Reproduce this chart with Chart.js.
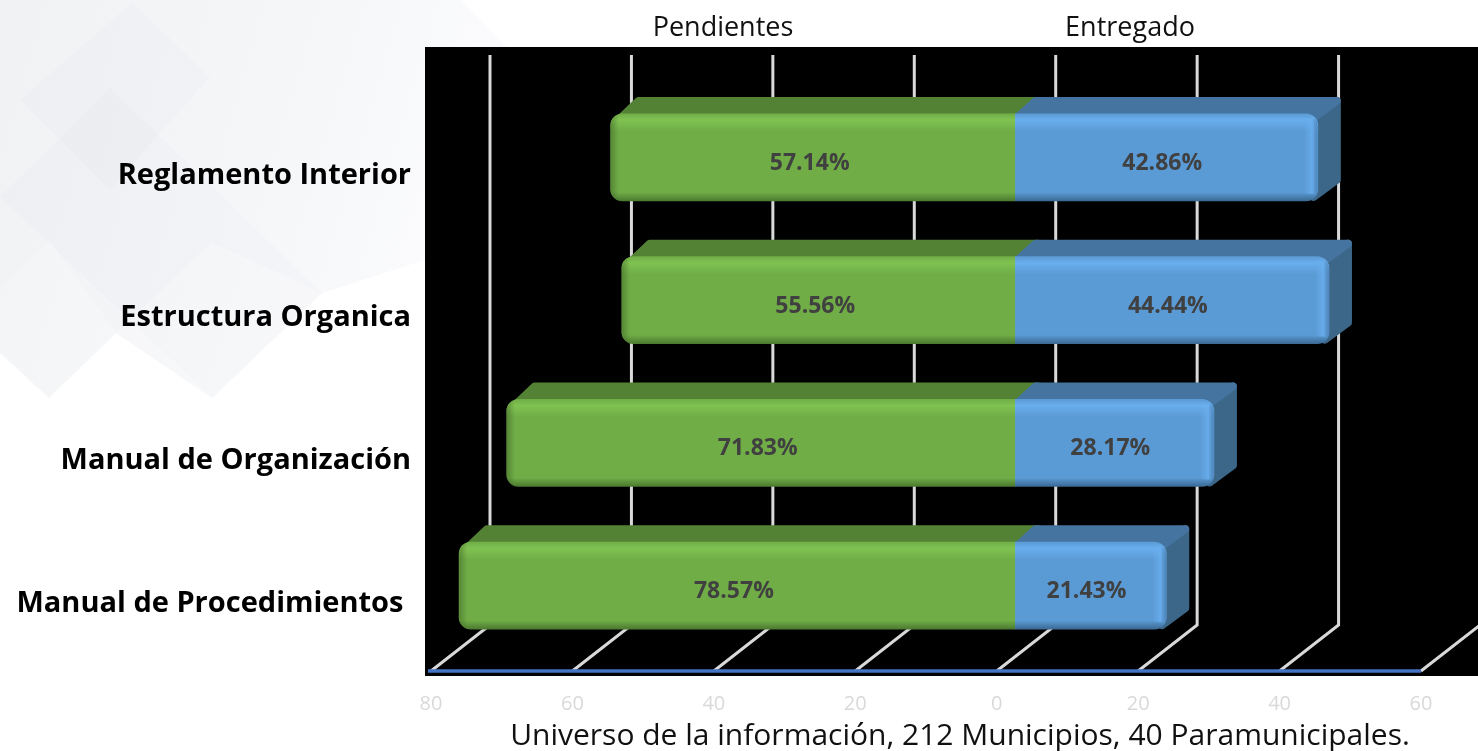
<!DOCTYPE html>
<html lang="es">
<head>
  <meta charset="UTF-8"/>
  <title>Universo de la información</title>
  <script src="https://cdn.jsdelivr.net/npm/chart.js"></script>
  <style>
    body { margin: 0; background: #fff; overflow: hidden; }
    canvas { display: block; }
  </style>
</head>
<body>
<canvas id="chart" width="1478" height="751"></canvas>

<script>
  const categories = ["Reglamento Interior", "Estructura Organica", "Manual de Organización", "Manual de Procedimientos\u00A0"];
  const seriesNames = ["Pendientes", "Entregado"];
  const pendientes = [57.14, 55.56, 71.83, 78.57];
  const entregado = [42.86, 44.44, 28.17, 21.43];
  const axisTicks = [-80, -60, -40, -20, 0, 20, 40, 60];
  const caption = "Universo de la información, 212 Municipios, 40 Paramunicipales.";

  const UI_FONT = "'Open Sans', 'Noto Sans', sans-serif";
  const GREEN = { top: "#548235", bright: "#80c252", mid: "#70ad47", dark: "#4c7a30" };
  const BLUE = { top: "#44749f", side: "#3c6788", bright: "#69aeee", mid: "#5b9bd5", dark: "#3b6a94" };
  // depth offsets of the fake 3D box, bars sit between the front floor edge and the back wall
  const BAR_DX = 23, BAR_DY = 17;
  const WALL_DX = 41, FRONT_DX = -18;
  const FLOOR_Y = 671, WALL_BOTTOM = 625, WALL_TOP = 55;
  const BAR_H = 87;

  function poly(ctx, pts, color) {
    ctx.fillStyle = color;
    ctx.beginPath();
    pts.forEach((p, n) => n ? ctx.lineTo(p[0], p[1]) : ctx.moveTo(p[0], p[1]));
    ctx.closePath();
    ctx.fill();
  }

  const backdrop = {
    id: "backdrop",
    beforeDraw(chart) {
      const ctx = chart.ctx;
      ctx.save();
      ctx.fillStyle = "#fff";
      ctx.fillRect(0, 0, 1478, 751);
      const g = ctx.createLinearGradient(0, 120, 480, 260);
      g.addColorStop(0, "#f1f2f4");
      g.addColorStop(0.6, "#f6f7f9");
      g.addColorStop(1, "#fcfcfe");
      poly(ctx, [[0, 0], [460, 0], [520, 60], [425, 260], [322, 293], [212, 398], [116, 333], [49, 398], [0, 353]], g);
      poly(ctx, [[132, 3], [210, 77], [110, 190], [20, 100]], "rgba(120,125,140,0.018)");
      poly(ctx, [[110, 88], [322, 293], [212, 398], [0, 197]], "rgba(120,125,140,0.018)");
      poly(ctx, [[212, 242], [322, 293], [212, 398], [116, 333]], "rgba(255,255,255,0.25)");
      poly(ctx, [[49, 240], [116, 333], [49, 398], [0, 353], [0, 290]], "rgba(255,255,255,0.2)");
      // plot background
      ctx.fillStyle = "#000";
      ctx.fillRect(425, 47, 1053, 629);
      ctx.restore();
    }
  };

  const box3d = {
    id: "box3d",
    beforeDatasetsDraw(chart) {
      const ctx = chart.ctx;
      const xs = chart.scales.x;
      ctx.save();
      // back wall and floor lines
      ctx.strokeStyle = "#d9d9d9";
      ctx.lineWidth = 3;
      axisTicks.forEach(v => {
        const px = xs.getPixelForValue(v);
        ctx.beginPath();
        ctx.moveTo(px + WALL_DX, WALL_TOP);
        ctx.lineTo(px + WALL_DX, WALL_BOTTOM);
        ctx.lineTo(px + FRONT_DX, FLOOR_Y);
        ctx.stroke();
      });
      ctx.strokeStyle = "#4472c4";
      ctx.lineWidth = 3.5;
      ctx.beginPath();
      ctx.moveTo(xs.getPixelForValue(-80) + FRONT_DX - 3, FLOOR_Y);
      ctx.lineTo(xs.getPixelForValue(60) + FRONT_DX, FLOOR_Y);
      ctx.stroke();
      // top and side faces
      const green = chart.getDatasetMeta(0).data;
      const blue = chart.getDatasetMeta(1).data;
      ctx.lineJoin = "round";
      ctx.lineWidth = 8;
      categories.forEach((c, i) => {
        const zero = green[i].base;
        const left = green[i].x;
        const right = blue[i].x;
        const top = green[i].y - BAR_H / 2;
        const bottom = top + BAR_H;
        const face = (color, pts) => {
          ctx.strokeStyle = color;
          poly(ctx, pts, color);
          ctx.stroke();
        };
        face(GREEN.top, [[left + 8, top + 6], [left + BAR_DX + 5, top - BAR_DY + 4], [zero + BAR_DX, top - BAR_DY + 4], [zero, top + 6]]);
        face(BLUE.side, [[right - 4, top + 4], [right + BAR_DX - 4, top - BAR_DY + 4], [right + BAR_DX - 4, bottom - BAR_DY - 4], [right - 4, bottom - 4]]);
        face(BLUE.top, [[zero, top + 6], [zero + BAR_DX - 2, top - BAR_DY + 4], [right + BAR_DX - 4, top - BAR_DY + 4], [right - 4, top + 4]]);
      });
      ctx.restore();
    },
    afterDatasetsDraw(chart) {
      const ctx = chart.ctx;
      const green = chart.getDatasetMeta(0).data;
      const blue = chart.getDatasetMeta(1).data;
      ctx.save();
      categories.forEach((c, i) => {
        const top = green[i].y - BAR_H / 2;
        // left edge of the green bar
        let g = ctx.createLinearGradient(green[i].x, 0, green[i].x + 8, 0);
        g.addColorStop(0, "rgba(60,95,35,0.5)");
        g.addColorStop(1, "rgba(60,95,35,0)");
        ctx.save();
        ctx.beginPath();
        ctx.roundRect(green[i].x, top, 12, BAR_H, [12, 0, 0, 12]);
        ctx.clip();
        ctx.fillStyle = g;
        ctx.fillRect(green[i].x, top, 12, BAR_H);
        ctx.restore();
        // right bevel of the blue bar
        g = ctx.createLinearGradient(blue[i].x - 14, 0, blue[i].x, 0);
        g.addColorStop(0, "rgba(105,174,238,0)");
        g.addColorStop(0.6, "rgba(105,174,238,0.85)");
        g.addColorStop(1, "rgba(70,120,170,0.6)");
        ctx.save();
        ctx.beginPath();
        ctx.roundRect(blue[i].x - 14, top, 14, BAR_H, [0, 12, 12, 0]);
        ctx.clip();
        ctx.fillStyle = g;
        ctx.fillRect(blue[i].x - 14, top + 5, 14, BAR_H - 12);
        ctx.restore();
      });
      // value labels
      ctx.fillStyle = "#404040";
      ctx.font = "bold 23px " + UI_FONT;
      ctx.textAlign = "center";
      ctx.textBaseline = "middle";
      categories.forEach((c, i) => {
        const gc = green[i].getCenterPoint();
        const bc = blue[i].getCenterPoint();
        ctx.fillText(pendientes[i].toFixed(2) + "%", gc.x - 3, gc.y + 6);
        ctx.fillText(entregado[i].toFixed(2) + "%", bc.x - 4, bc.y + 6);
      });
      // series names and caption
      ctx.fillStyle = "#111";
      ctx.font = "27px " + UI_FONT;
      ctx.fillText(seriesNames[0], 723, 28);
      ctx.fillText(seriesNames[1], 1130, 28);
      ctx.font = "30px " + UI_FONT;
      ctx.fillText(caption, 960, 736);
      ctx.restore();
    }
  };

  function barFill(colors) {
    return function (context) {
      const ys = context.chart.scales.y;
      const y = ys && context.dataIndex !== undefined ? ys.getPixelForValue(context.dataIndex) : NaN;
      if (!isFinite(y)) return colors.mid;
      const top = y - BAR_H / 2;
      const g = context.chart.ctx.createLinearGradient(0, top, 0, top + BAR_H);
      g.addColorStop(0, colors.mid);
      g.addColorStop(0.07, colors.bright);
      g.addColorStop(0.2, colors.mid);
      g.addColorStop(0.9, colors.mid);
      g.addColorStop(1, colors.dark);
      return g;
    };
  }

  new Chart(document.getElementById("chart"), {
    type: "bar",
    data: {
      labels: categories,
      datasets: [
        {
          label: seriesNames[0],
          data: pendientes.map(v => -v),
          backgroundColor: barFill(GREEN),
          borderRadius: { topLeft: 12, bottomLeft: 12, topRight: 0, bottomRight: 0 },
          borderSkipped: false,
          barThickness: BAR_H
        },
        {
          label: seriesNames[1],
          data: entregado,
          backgroundColor: barFill(BLUE),
          borderRadius: { topLeft: 0, bottomLeft: 0, topRight: 12, bottomRight: 12 },
          borderSkipped: false,
          barThickness: BAR_H
        }
      ]
    },
    options: {
      indexAxis: "y",
      responsive: false,
      animation: false,
      layout: { padding: { top: 86, right: 39, left: 0, bottom: 0 } },
      plugins: {
        legend: { display: false },
        tooltip: { enabled: false }
      },
      scales: {
        x: {
          stacked: true,
          min: -80,
          max: 60,
          afterFit(scale) { scale.height = 94; },
          border: { display: false },
          grid: { display: false },
          ticks: {
            stepSize: 20,
            maxRotation: 0,
            autoSkip: false,
            padding: 27,
            labelOffset: FRONT_DX,
            color: "#d9d9d9",
            font: { family: "'Open Sans', sans-serif", size: 20 },
            callback: v => Math.abs(v)
          }
        },
        y: {
          stacked: true,
          afterFit(scale) { scale.width = 449; },
          border: { display: false },
          grid: { display: false, drawTicks: false },
          ticks: {
            padding: 38,
            labelOffset: 18,
            color: "#000",
            font: { family: UI_FONT, size: 29, weight: "bold" }
          }
        }
      }
    },
    plugins: [backdrop, box3d]
  });
</script>
</body>
</html>
